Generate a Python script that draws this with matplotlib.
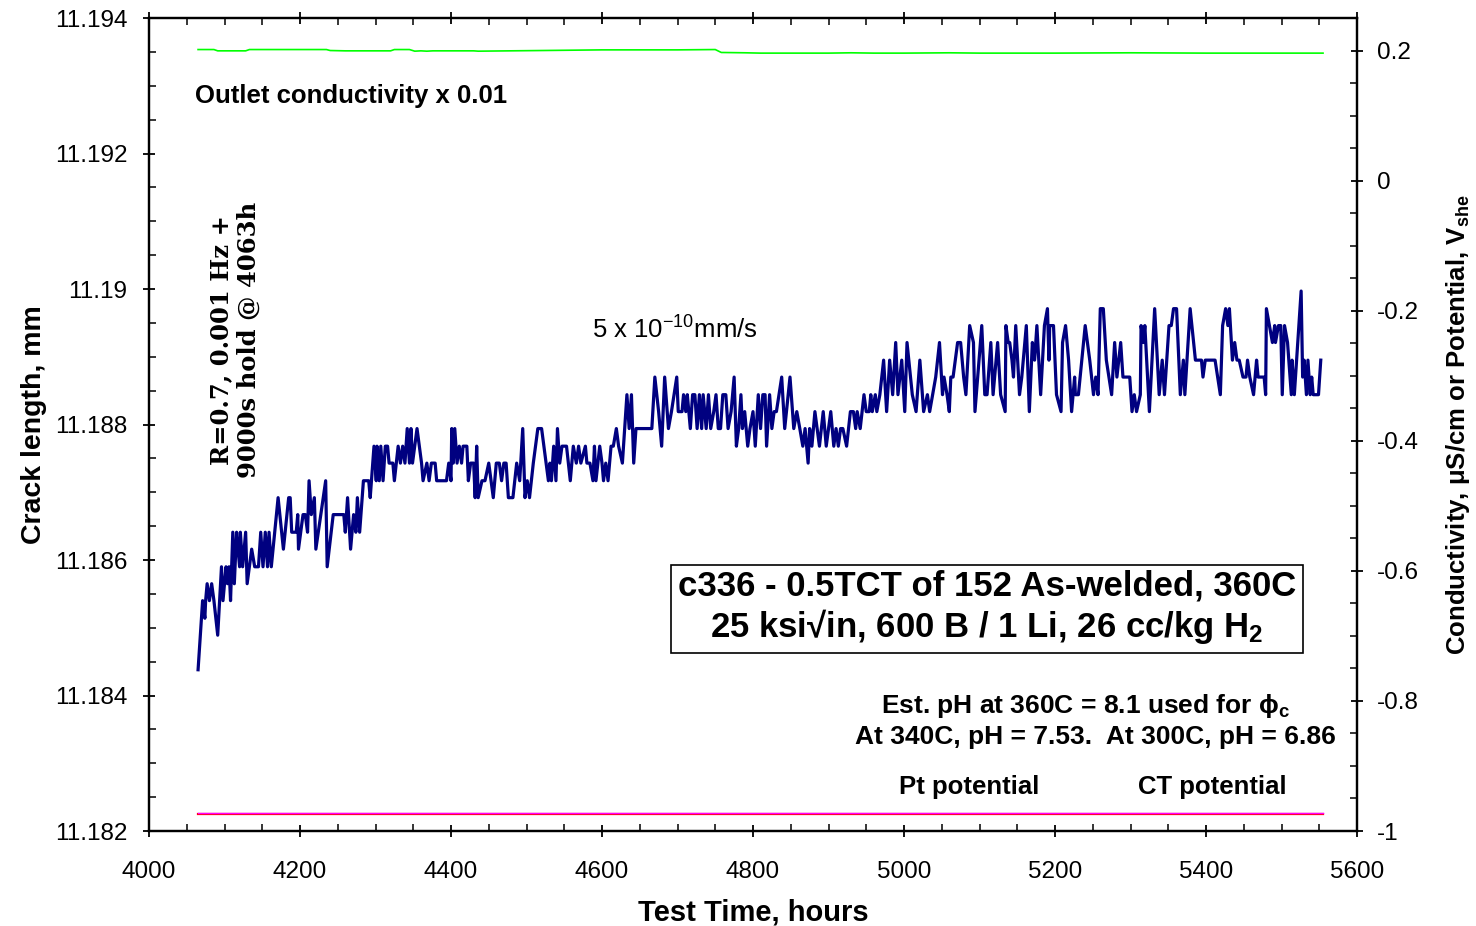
import matplotlib
matplotlib.use("Agg")
import matplotlib.pyplot as plt
from matplotlib.ticker import MultipleLocator, FuncFormatter

plt.rcParams['font.family'] = ['Liberation Sans', 'DejaVu Sans']
plt.rcParams['mathtext.fontset'] = 'custom'
plt.rcParams['mathtext.rm'] = 'Liberation Sans'
plt.rcParams['mathtext.it'] = 'Liberation Sans:italic'
plt.rcParams['mathtext.bf'] = 'Liberation Sans:bold'

# --- crack length (mm) vs test time (h) in four pieces ---
hours_a = [4065, 4071, 4074, 4075, 4077, 4080, 4083, 4086, 4091, 4096,
           4098, 4102, 4104, 4106, 4108, 4111, 4113, 4116, 4120, 4121,
           4124, 4128, 4130, 4136, 4140, 4145, 4148, 4151, 4154, 4157,
           4159, 4162, 4171, 4178, 4185, 4187, 4189, 4195, 4197, 4198,
           4204, 4207, 4210, 4212, 4215, 4219, 4221, 4234, 4236, 4244,
           4249, 4258, 4260, 4263, 4267, 4271, 4274, 4276, 4279, 4284,
           4291, 4293, 4298, 4301, 4302, 4305, 4307, 4310, 4313, 4316,
           4318, 4323, 4325, 4330, 4333, 4336, 4339, 4342, 4345, 4347,
           4349, 4352, 4355, 4358, 4361, 4363, 4368, 4371, 4374, 4379,
           4381, 4394, 4397, 4400, 4401, 4403, 4405, 4408, 4411, 4414,
           4416, 4421, 4423, 4426, 4430, 4432, 4434, 4436]
crack_a = [11.18438, 11.18540, 11.18514, 11.18540, 11.18565, 11.18540, 11.18565, 11.18540, 11.18489, 11.18590,
           11.18540, 11.18590, 11.18565, 11.18590, 11.18540, 11.18641, 11.18565, 11.18641, 11.18590, 11.18641,
           11.18590, 11.18641, 11.18565, 11.18616, 11.18590, 11.18590, 11.18641, 11.18590, 11.18641, 11.18590,
           11.18641, 11.18590, 11.18692, 11.18616, 11.18692, 11.18692, 11.18641, 11.18641, 11.18667, 11.18616,
           11.18667, 11.18667, 11.18641, 11.18717, 11.18667, 11.18692, 11.18616, 11.18717, 11.18590, 11.18667,
           11.18667, 11.18667, 11.18641, 11.18692, 11.18616, 11.18667, 11.18641, 11.18692, 11.18641, 11.18717,
           11.18717, 11.18692, 11.18768, 11.18717, 11.18768, 11.18717, 11.18768, 11.18717, 11.18768, 11.18768,
           11.18743, 11.18743, 11.18717, 11.18768, 11.18743, 11.18768, 11.18743, 11.18794, 11.18743, 11.18794,
           11.18743, 11.18768, 11.18794, 11.18768, 11.18743, 11.18717, 11.18743, 11.18717, 11.18743, 11.18743,
           11.18717, 11.18717, 11.18743, 11.18717, 11.18794, 11.18743, 11.18794, 11.18743, 11.18768, 11.18743,
           11.18768, 11.18768, 11.18717, 11.18743, 11.18743, 11.18692, 11.18768, 11.18692]

hours_b = [4441, 4445, 4450, 4453, 4456, 4460, 4464, 4467, 4470, 4473,
           4476, 4482, 4487, 4491, 4495, 4498, 4501, 4504, 4509, 4515,
           4520, 4526, 4529, 4531, 4533, 4536, 4539, 4541, 4544, 4547,
           4553, 4558, 4562, 4566, 4569, 4572, 4578, 4580, 4584, 4588,
           4590, 4592, 4597, 4600, 4602, 4605, 4608, 4612, 4615, 4619,
           4622, 4627, 4633, 4636, 4639, 4642, 4645, 4666, 4670, 4675,
           4679, 4683, 4688, 4692, 4699, 4701, 4706, 4708, 4711, 4713,
           4717, 4720, 4723, 4726, 4729, 4732, 4734, 4738, 4741, 4744,
           4748, 4751, 4754, 4757, 4760, 4764, 4767, 4771, 4775, 4778,
           4781, 4784, 4786, 4789, 4793, 4796, 4800, 4803, 4807]
crack_b = [11.18717, 11.18717, 11.18743, 11.18717, 11.18692, 11.18743, 11.18743, 11.18717, 11.18743, 11.18743,
           11.18692, 11.18692, 11.18743, 11.18717, 11.18794, 11.18692, 11.18717, 11.18692, 11.18743, 11.18794,
           11.18794, 11.18743, 11.18717, 11.18743, 11.18717, 11.18768, 11.18717, 11.18794, 11.18743, 11.18768,
           11.18768, 11.18717, 11.18768, 11.18743, 11.18768, 11.18743, 11.18768, 11.18743, 11.18743, 11.18717,
           11.18768, 11.18717, 11.18768, 11.18743, 11.18717, 11.18743, 11.18717, 11.18768, 11.18768, 11.18794,
           11.18768, 11.18743, 11.18844, 11.18794, 11.18844, 11.18743, 11.18794, 11.18794, 11.18870, 11.18819,
           11.18768, 11.18870, 11.18794, 11.18819, 11.18870, 11.18819, 11.18819, 11.18844, 11.18819, 11.18844,
           11.18794, 11.18844, 11.18844, 11.18794, 11.18844, 11.18794, 11.18844, 11.18794, 11.18844, 11.18794,
           11.18819, 11.18844, 11.18794, 11.18794, 11.18844, 11.18844, 11.18794, 11.18819, 11.18870, 11.18768,
           11.18794, 11.18844, 11.18794, 11.18819, 11.18768, 11.18794, 11.18819, 11.18768, 11.18844]

hours_c = [4810, 4813, 4816, 4818, 4822, 4825, 4828, 4831, 4838, 4842,
           4849, 4854, 4858, 4862, 4866, 4869, 4873, 4875, 4878, 4882,
           4888, 4893, 4897, 4903, 4907, 4910, 4913, 4916, 4919, 4924,
           4929, 4933, 4936, 4938, 4942, 4947, 4950, 4954, 4956, 4958,
           4962, 4964, 4968, 4973, 4977, 4981, 4985, 4989, 4992, 4997,
           5001, 5004, 5011, 5016, 5021, 5026, 5031, 5034, 5042, 5047,
           5051, 5053, 5057, 5060, 5062, 5065, 5071, 5075, 5079, 5082,
           5087, 5092, 5094, 5103, 5107, 5110, 5115, 5118, 5124, 5128,
           5134, 5135, 5138, 5140, 5143, 5145, 5148, 5153, 5156, 5162,
           5166, 5170, 5173]
crack_c = [11.18794, 11.18844, 11.18844, 11.18768, 11.18844, 11.18794, 11.18819, 11.18819, 11.18870, 11.18794,
           11.18870, 11.18794, 11.18819, 11.18794, 11.18768, 11.18794, 11.18743, 11.18794, 11.18768, 11.18819,
           11.18768, 11.18819, 11.18768, 11.18819, 11.18768, 11.18794, 11.18768, 11.18794, 11.18794, 11.18768,
           11.18819, 11.18819, 11.18794, 11.18819, 11.18794, 11.18844, 11.18819, 11.18819, 11.18844, 11.18819,
           11.18844, 11.18819, 11.18844, 11.18895, 11.18819, 11.18895, 11.18844, 11.18921, 11.18844, 11.18895,
           11.18819, 11.18921, 11.18844, 11.18819, 11.18895, 11.18819, 11.18844, 11.18819, 11.18870, 11.18921,
           11.18844, 11.18870, 11.18844, 11.18819, 11.18870, 11.18870, 11.18921, 11.18921, 11.18870, 11.18844,
           11.18946, 11.18921, 11.18819, 11.18946, 11.18844, 11.18844, 11.18921, 11.18844, 11.18921, 11.18844,
           11.18819, 11.18946, 11.18921, 11.18921, 11.18895, 11.18870, 11.18946, 11.18844, 11.18870, 11.18946,
           11.18819, 11.18921, 11.18895]

hours_d = [5176, 5181, 5186, 5190, 5192, 5193, 5198, 5202, 5208, 5210,
           5214, 5218, 5222, 5226, 5227, 5231, 5240, 5246, 5251, 5254,
           5257, 5260, 5264, 5268, 5275, 5279, 5282, 5287, 5290, 5299,
           5302, 5305, 5308, 5313, 5314, 5317, 5319, 5325, 5332, 5338,
           5342, 5345, 5351, 5354, 5357, 5361, 5366, 5370, 5372, 5379,
           5386, 5394, 5396, 5399, 5412, 5419, 5422, 5426, 5429, 5431,
           5435, 5438, 5441, 5444, 5449, 5453, 5455, 5458, 5463, 5467,
           5469, 5477, 5479, 5480, 5488, 5491, 5492, 5496, 5499, 5501,
           5504, 5508, 5513, 5514, 5517, 5526, 5528, 5530, 5533, 5535,
           5538, 5540, 5542, 5549, 5552]
crack_d = [11.18946, 11.18844, 11.18946, 11.18971, 11.18895, 11.18946, 11.18946, 11.18844, 11.18819, 11.18921,
           11.18946, 11.18895, 11.18819, 11.18870, 11.18844, 11.18844, 11.18946, 11.18895, 11.18844, 11.18870,
           11.18844, 11.18971, 11.18971, 11.18895, 11.18844, 11.18921, 11.18870, 11.18921, 11.18870, 11.18870,
           11.18819, 11.18844, 11.18819, 11.18844, 11.18946, 11.18921, 11.18946, 11.18819, 11.18971, 11.18844,
           11.18895, 11.18844, 11.18946, 11.18946, 11.18971, 11.18971, 11.18844, 11.18895, 11.18844, 11.18971,
           11.18895, 11.18895, 11.18870, 11.18895, 11.18895, 11.18844, 11.18946, 11.18971, 11.18946, 11.18971,
           11.18895, 11.18921, 11.18895, 11.18895, 11.18870, 11.18870, 11.18895, 11.18870, 11.18844, 11.18895,
           11.18870, 11.18870, 11.18844, 11.18971, 11.18921, 11.18946, 11.18921, 11.18946, 11.18946, 11.18844,
           11.18946, 11.18921, 11.18844, 11.18895, 11.18844, 11.18997, 11.18870, 11.18895, 11.18844, 11.18895,
           11.18844, 11.18870, 11.18844, 11.18844, 11.18895]

# --- right-axis series ---
cond_hours = [4065, 4086, 4091, 4128, 4133, 4235, 4240, 4260, 4265, 4320,
              4325, 4345, 4352, 4360, 4368, 4376, 4430, 4436, 4520, 4600,
              4700, 4750, 4758, 4790, 4810, 4900, 4930, 4960, 5000, 5060,
              5100, 5200, 5300, 5400, 5500, 5555]
cond_vals = [0.2015, 0.2015, 0.1995, 0.1995, 0.2015, 0.2015, 0.2000, 0.1995, 0.1995, 0.1995,
             0.2015, 0.2015, 0.1990, 0.1995, 0.1990, 0.1995, 0.1995, 0.1990, 0.2000, 0.2010,
             0.2010, 0.2015, 0.1970, 0.1965, 0.1960, 0.1960, 0.1965, 0.1960, 0.1960, 0.1965,
             0.1960, 0.1960, 0.1965, 0.1960, 0.1960, 0.1960]

pot_hours = [4065, 4500, 5000, 5270, 5555]
pt_pot = [-0.974, -0.974, -0.974, -0.974, -0.974]
ct_pot = [-0.9725, -0.9725, -0.9725, -0.9725, -0.9725]

hours = hours_a + hours_b + hours_c + hours_d
crack = crack_a + crack_b + crack_c + crack_d

fig = plt.figure(figsize=(14.76, 9.26), dpi=100)
ax = fig.add_axes([149 / 1476, 1 - 831 / 926, 1208 / 1476, 813 / 926])
ax2 = ax.twinx()

ax.plot(hours, crack, '-', color='#000080', linewidth=2.3, zorder=3)
ax2.plot(cond_hours, cond_vals, '-', color='#00FF00', linewidth=1.2)
ax2.plot(pot_hours, pt_pot, '-', color='#FF0000', linewidth=1.6)
ax2.plot(pot_hours, ct_pot, '-', color='#FF00FF', linewidth=1.0)

ax.set_xlim(4000, 5600)
ax.set_ylim(11.182, 11.194)
ax2.set_ylim(-1, 0.25)

ax.xaxis.set_major_locator(MultipleLocator(200))
ax.xaxis.set_minor_locator(MultipleLocator(50))
ax.yaxis.set_major_locator(MultipleLocator(0.002))
ax.yaxis.set_minor_locator(MultipleLocator(0.0005))
ax.yaxis.set_major_formatter(FuncFormatter(lambda v, p: f"{v:.3f}".rstrip('0')))
ax2.yaxis.set_major_locator(MultipleLocator(0.2))
ax2.yaxis.set_minor_locator(MultipleLocator(0.05))
ax2.yaxis.set_major_formatter(FuncFormatter(lambda v, p: f"{round(v, 1):g}"))

ax.tick_params(axis='both', which='major', direction='inout', length=9, width=1.3,
               labelsize=17.5, top=True)
ax.tick_params(axis='both', which='minor', direction='in', length=5, width=1.1, top=True)
ax.tick_params(axis='x', which='major', pad=17)
ax.tick_params(axis='y', which='major', pad=11)
ax2.tick_params(axis='y', which='major', direction='inout', length=9, width=1.3,
                labelsize=17.5, pad=10)
ax2.tick_params(axis='y', which='minor', direction='in', length=5, width=1.1)
for s in ax.spines.values():
    s.set_linewidth(1.6)
for s in ax2.spines.values():
    s.set_linewidth(1.6)

ax.set_xlabel('Test Time, hours', fontsize=21, fontweight='bold', labelpad=11)
ax.set_ylabel('Crack length, mm', fontsize=20.5, fontweight='bold', labelpad=6)
fig.text(1458 / 1476, 1 - 425 / 926,
         r'Conductivity, $\mathregular{\mu}$S/cm or Potential, V$_\mathregular{she}$',
         fontsize=18.5, fontweight='bold', rotation=90, ha='center', va='center')

ax.text(4061, 11.19285, 'Outlet conductivity x 0.01', fontsize=18.5, fontweight='bold',
        ha='left', va='center')
ax.text(4114, 11.18925, 'R=0.7, 0.001 Hz +\n9000s hold @ 4063h', family='DejaVu Serif',
        fontsize=17.5, fontweight='bold', rotation=90, ha='center', va='center',
        linespacing=1.15)
ax.text(4697, 11.18939, r'5 x 10$^{\mathregular{-10}}$mm/s', fontsize=18.5,
        ha='center', va='center')
ax.text(5110, 11.18529,
        'c336 - 0.5TCT of 152 As-welded, 360C\n25 ksi\u221ain, 600 B / 1 Li, 26 cc/kg H$_\\mathregular{2}$',
        fontsize=25, fontweight='bold', ha='center', va='center', linespacing=1.15,
        bbox=dict(boxstyle='square,pad=0.2', facecolor='white', edgecolor='black', linewidth=1.2))
ax.text(5240, 11.18385, r'Est. pH at 360C = 8.1 used for $\mathregular{\phi}_\mathregular{c}$',
        fontsize=19, fontweight='bold', ha='center', va='center')
ax.text(5253, 11.18339, 'At 340C, pH = 7.53.  At 300C, pH = 6.86',
        fontsize=19, fontweight='bold', ha='center', va='center')
ax.text(5087, 11.18265, 'Pt potential', fontsize=18.5, fontweight='bold', ha='center', va='center')
ax.text(5409, 11.18265, 'CT potential', fontsize=18.5, fontweight='bold', ha='center', va='center')

fig.savefig('out.png', dpi=100)
